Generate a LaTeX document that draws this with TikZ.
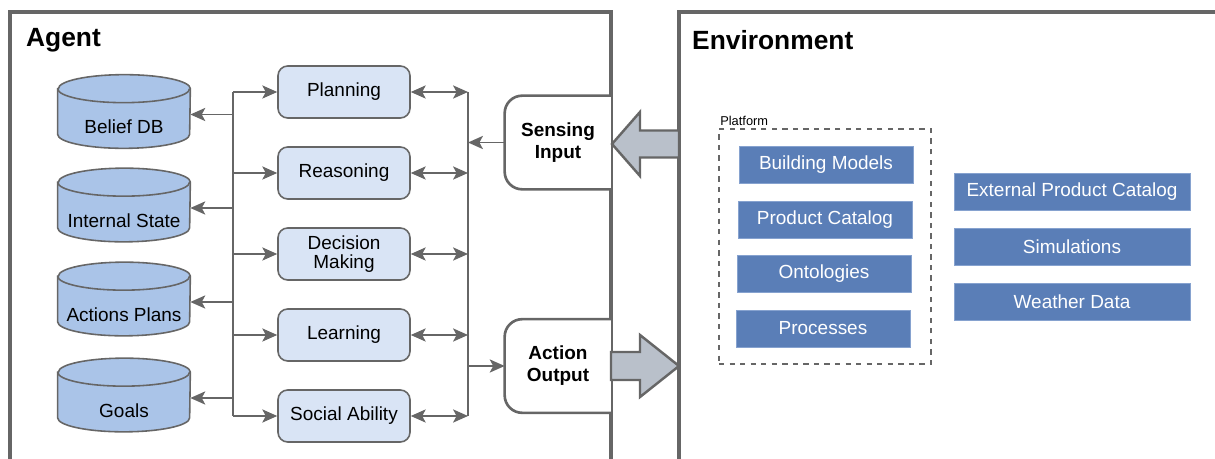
\documentclass[tikz,border=0pt]{standalone}
\usepackage{fontspec}
\setmainfont{Liberation Sans}
\usepackage{tikz}
\usetikzlibrary{arrows.meta,positioning,calc,backgrounds}

\definecolor{linegray}{HTML}{666666}
\definecolor{cylfill}{HTML}{AAC4E8}
\definecolor{procfill}{HTML}{D9E4F5}
\definecolor{blockfill}{HTML}{B9C0CA}
\definecolor{srcblue}{HTML}{5A7EB7}
\definecolor{srcedge}{HTML}{86A2CF}

\begin{document}
\begin{tikzpicture}[
    x=0.02cm, y=-0.02cm,
    font=\fontsize{10.8}{12.5}\selectfont,
    frame/.style={draw=linegray, line width=1.8pt},
    store/.style={rectangle, minimum width=2.64cm, minimum height=1.46cm, inner sep=0pt,
        text height=0.9cm, text depth=0pt},
    cyl/.style={draw=linegray, line width=0.9pt, fill=cylfill},
    proc/.style={rectangle, rounded corners=5.5pt, draw=linegray, line width=0.9pt, fill=procfill,
        minimum width=2.64cm, minimum height=1.04cm, align=center, inner sep=1pt},
    io/.style={rectangle, fill=white, minimum width=2.12cm, minimum height=1.86cm, align=center,
        font=\fontsize{10.8}{12.5}\selectfont\bfseries},
    ioedge/.style={draw=linegray, line width=1.5pt, rounded corners=10pt},
    src/.style={rectangle, draw=srcedge, line width=0.5pt, fill=srcblue, text=white,
        minimum height=0.74cm, inner sep=0pt},
    arrow/.style={-{Stealth[length=8.5pt, width=7.5pt, inset=2pt]}, draw=linegray, fill=linegray, line width=1pt},
    twoway/.style={{Stealth[length=8.5pt, width=7.5pt, inset=2pt]}-{Stealth[length=8.5pt, width=7.5pt, inset=2pt]},
        draw=linegray, fill=linegray, line width=1pt},
    blockarrow/.style={draw=linegray, fill=blockfill, line width=1.4pt, line join=miter}
]
    \useasboundingbox (0,0) rectangle (1215,459);

    % the two frames, both open at the bottom
    \draw[frame] (10,459) -- (10,12) -- (611,12) -- (611,459);
    \draw[frame] (1215,12) -- (679,12) -- (679,459);
    \node[anchor=west, font=\fontsize{15}{18}\selectfont\bfseries] (agent) at (20,40) {Agent};
    \node[anchor=west, font=\fontsize{15}{18}\selectfont\bfseries] (env) at (686,40) {Environment};

    % stores
    \node[store] (belief) at (124,111.5) {Belief DB};
    \node[store] (state) at (124,205) {Internal State};
    \node[store] (plans) at (124,299) {Actions Plans};
    \node[store] (goals) at (124,395) {Goals};

    % cylinder bodies behind the store texts
    \begin{pgfonlayer}{background}
    \foreach \s in {belief,state,plans,goals} {
        \draw[cyl] ($(\s.north west)+(0,14)$) -- ($(\s.south west)+(0,-14)$)
            arc[start angle=180, end angle=360, x radius=1.32cm, y radius=0.28cm]
            -- ($(\s.north east)+(0,14)$)
            arc[start angle=0, end angle=180, x radius=1.32cm, y radius=0.28cm] -- cycle;
        \draw[cyl, fill=none] ($(\s.north west)+(0,14)$)
            arc[start angle=180, end angle=360, x radius=1.32cm, y radius=0.28cm];
    }
    \end{pgfonlayer}

    % processes
    \node[proc] (planning) at (344,92) {Planning};
    \node[proc] (reasoning) at (344,173) {Reasoning};
    \node[proc] (decision) at (344,254) {Decision\\[-2pt]Making};
    \node[proc] (learning) at (344,335) {Learning};
    \node[proc] (social) at (344,416) {Social Ability};

    % input / output, square on the wall side
    \node[io] (sense) at (558,142.5) {Sensing\\Input};
    \node[io] (act) at (558,366) {Action\\Output};
    \draw[ioedge] (sense.north east) -- (sense.north west) -- (sense.south west) -- (sense.south east);
    \draw[ioedge] (act.north east) -- (act.north west) -- (act.south west) -- (act.south east);

    \coordinate (lbus) at (233,0);
    \coordinate (rbus) at (468,0);

    % left bus
    \draw[draw=linegray, line width=1pt] (lbus |- planning) -- (lbus |- social);
    \foreach \p in {planning,reasoning,decision,learning,social}
        \draw[arrow] (lbus |- \p.west) -- (\p.west);
    \foreach \s in {belief,state,plans,goals}
        \draw[arrow] ($(lbus |- \s.east)+(0,3)$) -- ($(\s.east)+(0,3)$);

    % right bus
    \draw[draw=linegray, line width=1pt] (rbus |- planning) -- (rbus |- social);
    \foreach \p in {planning,reasoning,decision,learning,social}
        \draw[twoway] (\p.east) -- (rbus |- \p.east);
    \draw[arrow] (sense.west) -- (rbus |- sense.west);
    \draw[arrow] (rbus |- act.west) -- (act.west);

    % block arrows between agent and environment
    \draw[blockarrow] (612,144) -- ++(28,-32) -- ++(0,18.5) -- (679,130.5)
        -- (679,157.5) -- (640,157.5) -- ++(0,18.5) -- cycle;
    \draw[blockarrow] (679,366) -- ++(-39,-31) -- ++(0,17) -- (611,352)
        -- (611,380) -- (640,380) -- ++(0,17) -- cycle;

    % platform
    \node[draw=linegray, dashed, line width=0.9pt, minimum width=4.24cm, minimum height=4.7cm,
        inner sep=0pt] (platform) at (825,246.5) {};
    \node[anchor=south west, inner sep=1pt, font=\fontsize{7.3}{8}\selectfont] (platlabel)
        at (platform.north west) {Platform};

    \node[src, minimum width=3.48cm] (bim) at (826,164.5) {Building Models};
    \node[src, minimum width=3.48cm] (catalog) at (825,219.5) {Product Catalog};
    \node[src, minimum width=3.48cm] (onto) at (824,273.5) {Ontologies};
    \node[src, minimum width=3.48cm] (procs) at (823,328.5) {Processes};

    \node[src, minimum width=4.72cm] (extcat) at (1072,191.5) {External Product Catalog};
    \node[src, minimum width=4.72cm] (sims) at (1072,246.5) {Simulations};
    \node[src, minimum width=4.72cm] (weather) at (1072,301.5) {Weather Data};
\end{tikzpicture}
\end{document}
